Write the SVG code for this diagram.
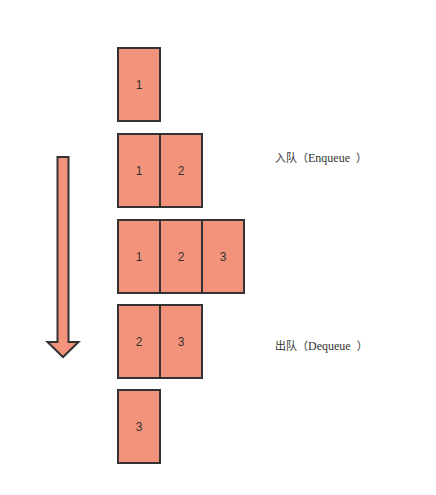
<svg xmlns="http://www.w3.org/2000/svg" width="436" height="495" viewBox="0 0 436 495">
<style>
.c{fill:#F4937B;stroke:#333;stroke-width:2}
.n{font-family:"Liberation Sans",Arial,sans-serif;font-size:12px;fill:#333;text-anchor:middle;dominant-baseline:central}
.l{font-family:"Liberation Serif","Noto Sans CJK SC",serif;font-size:12px;fill:#333}
.k{font-family:"Noto Sans CJK SC",sans-serif;font-size:11px}
</style>
<rect width="436" height="495" fill="#fff"/>
<g id="arrow">
<path class="c" d="M57.5 157 H68.5 V342 H78.5 L63 357 L47.5 342 H57.5 Z"/>
</g>
<g id="row1">
<rect class="c" x="118" y="48" width="42" height="73"/>
<text class="n" x="139" y="85">1</text>
</g>
<g id="row2">
<rect class="c" x="118" y="134" width="42" height="73"/>
<rect class="c" x="160" y="134" width="42" height="73"/>
<text class="n" x="139" y="171">1</text>
<text class="n" x="181" y="171">2</text>
</g>
<g id="row3">
<rect class="c" x="118" y="220" width="42" height="73"/>
<rect class="c" x="160" y="220" width="42" height="73"/>
<rect class="c" x="202" y="220" width="42" height="73"/>
<text class="n" x="139" y="257">1</text>
<text class="n" x="181" y="257">2</text>
<text class="n" x="223" y="257">3</text>
</g>
<g id="row4">
<rect class="c" x="118" y="305" width="42" height="73"/>
<rect class="c" x="160" y="305" width="42" height="73"/>
<text class="n" x="139" y="342">2</text>
<text class="n" x="181" y="342">3</text>
</g>
<g id="row5">
<rect class="c" x="118" y="390" width="42" height="73"/>
<text class="n" x="139" y="427">3</text>
</g>
<g id="labels">
<text class="l" x="275" y="162"><tspan class="k">入队（</tspan>Enqueue<tspan class="k" dx="6">）</tspan></text>
<text class="l" x="275" y="350"><tspan class="k">出队（</tspan>Dequeue<tspan class="k" dx="6">）</tspan></text>
</g>
</svg>
